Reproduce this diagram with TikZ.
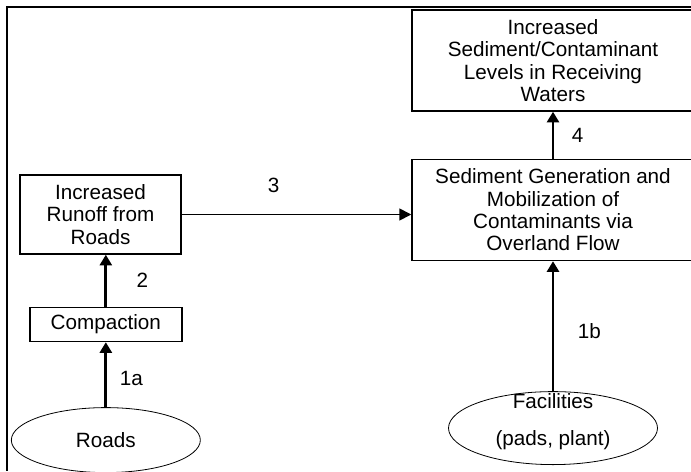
\documentclass[tikz,border=0pt]{standalone}
\usepackage{fontspec}
\setmainfont{Liberation Sans}
\usetikzlibrary{arrows.meta,positioning,shapes.geometric}

\begin{document}
\begin{tikzpicture}[
    x=0.75pt, y=-0.75pt,
    every node/.style={font=\fontsize{15.5}{16.7}\selectfont},
    block/.style={
      rectangle,
      draw,
      line width=1.1pt,
      align=center,
      inner sep=2pt
    },
    cloud/.style={
      draw,
      ellipse,
      line width=0.6pt,
      align=center
    },
    line/.style={draw, -{Triangle[length=8pt,width=9pt]}, line width=2.2pt},
    thinline/.style={draw, -{Triangle[length=9pt,width=9pt]}, line width=1.2pt},
    num/.style={inner sep=0pt}
]
    \useasboundingbox (0,0) rectangle (691,471);
    \clip (0,0) rectangle (691,471);

    % Frame
    \draw[line width=2pt] (691,7) -- (7,7) -- (7,471);

    % Nodes
    \node [block, minimum width=211.5pt, minimum height=75.75pt] (waters) at (553,60.5)
      {Increased\\Sediment/Contaminant\\Levels in Receiving\\Waters};
    \node [block, minimum width=211.5pt, minimum height=75.75pt, below=35.25pt of waters] (overland)
      {Sediment Generation and\\Mobilization of\\Contaminants via\\Overland Flow};
    \node [block, minimum width=120.75pt, minimum height=59.25pt] (runoff) at (100.5,214.5)
      {Increased\\Runoff from\\Roads};
    \node [block, minimum width=114pt, minimum height=25.5pt, below=39pt of runoff, xshift=4pt] (compact) {Compaction};
    \node [cloud, minimum width=141.75pt, minimum height=48.75pt, below=48.75pt of compact] (roads) {Roads};
    \node [cloud, minimum width=156.75pt, minimum height=54.75pt, below=97.5pt of overland,
      label={[align=center, yshift=5pt]center:Facilities\\[11pt](pads, plant)}] (facil) {};

    % Edges
    \path [line] (roads) -- (compact) node[num, midway, right=9.5pt, yshift=-3pt] {1a};
    \path [line] (compact.north) -- (compact.north |- runoff.south) node[num, midway, right=22pt] {2};
    \path [thinline] (runoff.east) -- (runoff.east -| overland.west) node[num, pos=0.4, above=15.5pt] {3};
    \path [line] (overland) -- (waters) node[num, midway, right=13pt] {4};
    \path [line] (facil) -- (overland) node[num, midway, right=17.6pt, yshift=-4pt] {1b};

\end{tikzpicture}
\end{document}
